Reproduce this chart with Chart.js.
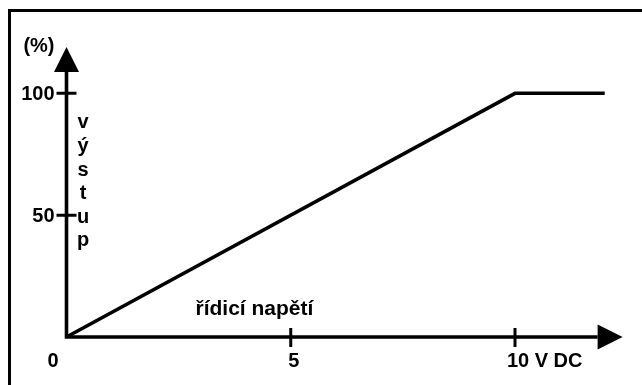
<!DOCTYPE html>
<html>
<head>
<meta charset="utf-8">
<title>Výstup podle řídicího napětí</title>
<script src="https://cdn.jsdelivr.net/npm/chart.js@4"></script>
<style>
  html, body { margin: 0; padding: 0; background: #fff; overflow: hidden; }
  #wrap { position: relative; width: 642px; height: 385px; overflow: hidden; }
  #frame { position: absolute; left: 8px; top: 9px; width: 700px; height: 500px; border: 3px solid #000; }
  #myChart { position: absolute; left: 0; top: 0; }
</style>
</head>
<body>
<div id="wrap">
  <div id="frame"></div>
  <canvas id="myChart" width="642" height="385"></canvas>
</div>
<script>
  // characteristic: output rises linearly up to 10 V, then stays at 100 %
  const controlVoltage = [0, 10, 12];
  const outputPercent = [0, 100, 100];

  const xTickValues = [0, 5, 10];
  const xTickLabels = ['0', '5', '10 V DC'];
  const yTickValues = [50, 100];
  const yTickLabels = ['50', '100'];

  const yUnitLabel = '(%)';
  const xAxisTitle = 'řídicí napětí';
  const yAxisTitle = 'výstup';

  // where the arrow tips of the axes end, in axis units
  const xArrowTip = 12.4;
  const yArrowTip = 119;

  const FONT = 'bold 20px "Liberation Sans", Arial, sans-serif';
  const TITLE_FONT = 'bold 21px "Liberation Sans", Arial, sans-serif';

  const arrowAxes = {
    id: 'arrowAxes',
    afterDatasetsDraw(chart) {
      const { ctx, scales: { x, y } } = chart;
      const ox = x.getPixelForValue(0);
      const oy = y.getPixelForValue(0);
      const xTip = x.getPixelForValue(xArrowTip);
      const yTip = y.getPixelForValue(yArrowTip);
      const head = 25, half = 12.5;

      ctx.save();
      ctx.strokeStyle = '#000';
      ctx.fillStyle = '#000';

      // axis lines
      ctx.lineWidth = 3.6;
      ctx.beginPath();
      ctx.moveTo(ox, oy + 1.8);
      ctx.lineTo(ox, yTip + head);
      ctx.moveTo(ox - 1.8, oy);
      ctx.lineTo(xTip - head, oy);
      ctx.stroke();

      // arrow heads
      ctx.beginPath();
      ctx.moveTo(ox, yTip);
      ctx.lineTo(ox + half, yTip + head);
      ctx.lineTo(ox - half, yTip + head);
      ctx.closePath();
      ctx.fill();
      ctx.beginPath();
      ctx.moveTo(xTip, oy);
      ctx.lineTo(xTip - head, oy - half);
      ctx.lineTo(xTip - head, oy + half);
      ctx.closePath();
      ctx.fill();

      // tick marks
      ctx.lineWidth = 3;
      ctx.beginPath();
      yTickValues.forEach(v => {
        const py = y.getPixelForValue(v);
        ctx.moveTo(ox - 10, py);
        ctx.lineTo(ox + 10, py);
      });
      xTickValues.forEach(v => {
        if (v === 0) return;
        const px = x.getPixelForValue(v);
        ctx.moveTo(px, oy - 9);
        ctx.lineTo(px, oy + 10);
      });
      ctx.stroke();

      ctx.font = FONT;
      ctx.textBaseline = 'alphabetic';

      // y tick labels and unit
      ctx.textAlign = 'right';
      yTickValues.forEach((v, i) => {
        ctx.fillText(yTickLabels[i], ox - 12, y.getPixelForValue(v) + 7);
      });
      ctx.fillText(yUnitLabel, ox - 12, yTip + 5);

      // x tick labels: the number sits just right of its tick, the origin label left of the corner
      xTickValues.forEach((v, i) => {
        const label = xTickLabels[i];
        const px = x.getPixelForValue(v);
        if (v === 0) {
          ctx.textAlign = 'right';
          ctx.fillText(label, ox - 8, oy + 30);
        } else {
          const num = label.split(' ')[0];
          ctx.textAlign = 'left';
          ctx.fillText(label, px - ctx.measureText(num).width / 2 + 3, oy + 30);
        }
      });

      // vertical y title, one letter per line
      ctx.textAlign = 'center';
      const top = y.getPixelForValue(100) + 35;
      Array.from(yAxisTitle).forEach((ch, i) => {
        ctx.fillText(ch, ox + 16.5, top + i * 23.6);
      });

      // x title above the axis
      ctx.font = TITLE_FONT;
      ctx.textAlign = 'left';
      ctx.fillText(xAxisTitle, ox + 129, oy - 22);

      ctx.restore();
    }
  };

  const ctx = document.getElementById('myChart').getContext('2d');
  const chart = new Chart(ctx, {
    type: 'line',
    data: {
      datasets: [{
        data: controlVoltage.map((v, i) => ({ x: v, y: outputPercent[i] })),
        borderColor: '#000',
        borderWidth: 3.6,
        borderJoinStyle: 'miter',
        pointRadius: 0,
        tension: 0,
        fill: false,
        clip: false
      }]
    },
    options: {
      responsive: false,
      animation: false,
      devicePixelRatio: 1,
      layout: { padding: { left: 66.5, top: 93.3, right: 37.3, bottom: 48 } },
      scales: {
        x: { type: 'linear', min: 0, max: 12, display: false },
        y: { type: 'linear', min: 0, max: 100, display: false }
      },
      plugins: {
        legend: { display: false },
        tooltip: { enabled: false }
      }
    },
    plugins: [arrowAxes]
  });
</script>
</body>
</html>
